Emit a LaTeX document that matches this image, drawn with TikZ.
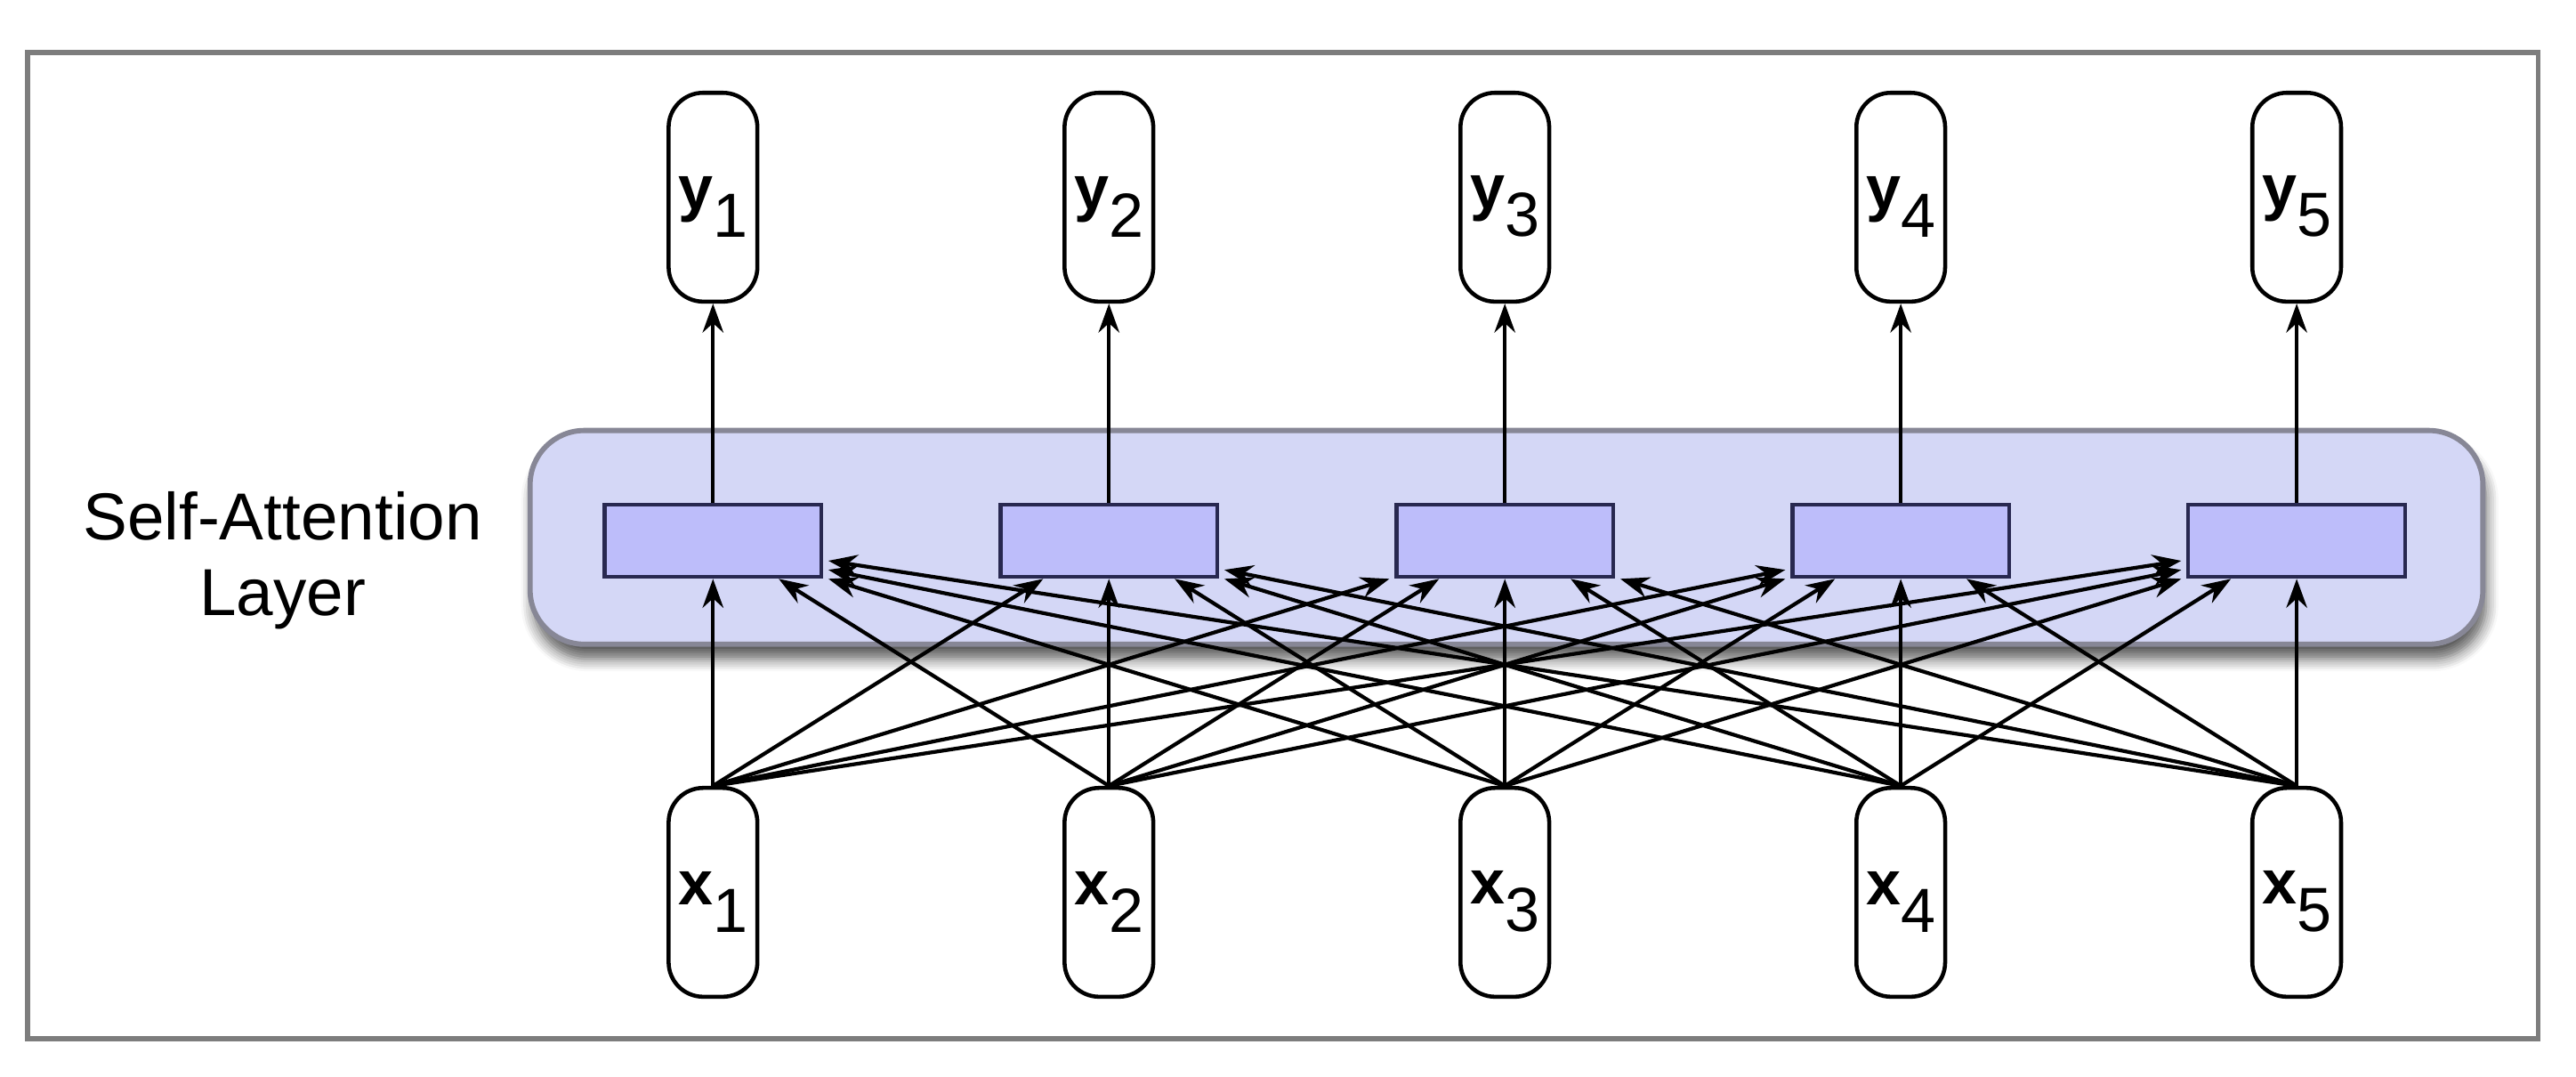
\documentclass[tikz,border=0pt]{standalone}
\usepackage{fontspec}
\setmainfont{Liberation Sans}
\usetikzlibrary{arrows.meta,shadows.blur}
\definecolor{layerfill}{RGB}{212,215,246}
\definecolor{layerdraw}{RGB}{135,135,150}
\definecolor{cellfill}{RGB}{189,189,250}
\definecolor{celldraw}{RGB}{40,40,80}
\definecolor{framegray}{RGB}{125,125,125}
\newcommand*\veclab[2]{\rule{0pt}{9pt}\textbf{#1}\raisebox{-4.8pt}{#2}}
\tikzset{
        conn/.style={-{Stealth[length=5pt,width=3.6pt]}, line width=.65pt}, % all connectors
        vecnode/.style={draw, line width=.7pt, rounded corners=.21cm,
        minimum width=.54cm, minimum height=1.27cm, inner sep=0pt,
        font=\fontsize{10.8}{12}\selectfont},
    }

\begin{document}
\begin{tikzpicture}[
  x=.01cm, y=-.01cm, % one unit = one pixel of the 1568x655 view, y downwards
  layerbox/.style={draw=layerdraw, line width=.9pt, fill=layerfill,
    rounded corners=.33cm, minimum width=11.88cm, minimum height=1.3cm,
    blur shadow={shadow xshift=.02cm, shadow yshift=-.09cm,
      shadow blur steps=6, shadow opacity=65}},
  cellbox/.style={draw=celldraw, line width=.7pt, fill=cellfill,
    minimum width=1.32cm, minimum height=.44cm, inner sep=0pt},
]
\useasboundingbox (0,0) rectangle (1568,655);
\draw[framegray, line width=.9pt] (17,32) rectangle (1545,632);

\node[layerbox] (layer) at (917,327) {};
\node[align=center, font=\fontsize{11.5}{13}\selectfont] (name) at (172,341)
  {Self-Attention\\Layer};

\foreach \i in {1,...,5}{
  \pgfmathsetmacro\cx{434+241*(\i-1)}
  \node[vecnode] (y\i) at (\cx,120) {\veclab{y}{\i}};
  \node[vecnode] (x\i) at (\cx,543) {\veclab{x}{\i}};
  \node[cellbox] (a\i) at (\cx,329) {};
  \draw[conn] (a\i.north) -- (y\i.south);
}

% every input goes to every cell: below for near ones, at the corner for far ones
\foreach \i in {1,...,5}
  \foreach \j in {1,...,5}{
    \pgfmathtruncatemacro\d{\i-\j}
    \pgfmathsetmacro\up{max(abs(\d)-2,0)*0.055}
    \ifnum\d=0 \draw[conn] (x\i.north) -- (a\j.south);
    \else\ifnum\d=1 \draw[conn] (x\i.north) -- ([xshift=.4cm]a\j.south);
    \else\ifnum\d=-1 \draw[conn] (x\i.north) -- ([xshift=-.4cm]a\j.south);
    \else\ifnum\d>1 \draw[conn] (x\i.north) -- ([xshift=.03cm,yshift=\up cm]a\j.south east);
    \else \draw[conn] (x\i.north) -- ([xshift=-.03cm,yshift=\up cm]a\j.south west);
    \fi\fi\fi\fi
  }
\end{tikzpicture}
\end{document}
